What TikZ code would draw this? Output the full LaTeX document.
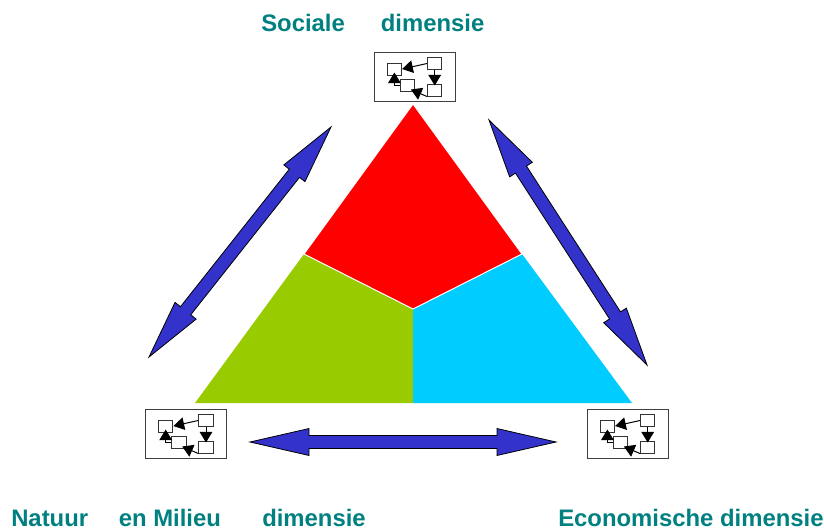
\documentclass[tikz,border=0pt]{standalone}
\usepackage{fontspec}
\setmainfont{Liberation Sans}
\usetikzlibrary{arrows.meta}
\usetikzlibrary{calc}

\definecolor{dimtext}{RGB}{0,128,128}
\definecolor{dimgreen}{RGB}{153,204,0}
\definecolor{dimcyan}{RGB}{0,204,255}
\definecolor{dimblue}{RGB}{51,51,204}

\tikzset{
  dimlabel/.style={font=\fontsize{17.9}{20}\selectfont\bfseries,text=dimtext,anchor=base west,inner sep=0pt},
  sector/.style={draw=white,line width=0.75},
  framebox/.style={draw=black!75,line width=0.75,inner sep=0pt,minimum width=60.8pt,minimum height=36.5pt},
  smallbox/.style={draw=black!80,fill=white,line width=0.75,inner sep=0pt,minimum width=10.9pt,minimum height=9pt},
  smallarrow/.style={draw=black,line width=0.75,-{Triangle[length=8pt,width=9.5pt]}},
  bigarrow/.style={draw=black,fill=dimblue,line width=0.6},
  pics/icon/.style={code={
    \node[framebox] (-frame) at (0,0) {};
    \node[smallbox] (-a) at (-20.3,8) {};
    \node[smallbox] (-b) at (20,13.5) {};
    \node[smallbox] (-c) at (-7,-8) {};
    \node[smallbox] (-d) at (20,-13) {};
    % Connection
    \draw[smallarrow] (-b.west) -- (-a.east);
    \draw[smallarrow,shorten >=-1.5pt] (-b.south) -- (-d.north);
    \draw[smallarrow,shorten >=-3.75pt] (-d.south west) -- (-c.south east);
    \draw[smallarrow,shorten >=-2.25pt] (-c.west) -| (-a.south);
  }}
}

% double block arrow between two named coordinates
\newcommand{\blockarrow}[2]{
  \coordinate (hA) at ($(#1)!44.25pt!(#2)$);
  \coordinate (hB) at ($(#2)!44.25pt!(#1)$);
  \draw[bigarrow] (#1)
    -- ($(hA)!10.1pt!90:(#2)$) -- ($(hA)!4.9pt!90:(#2)$)
    -- ($(hB)!4.9pt!-90:(#1)$) -- ($(hB)!10.1pt!-90:(#1)$)
    -- (#2)
    -- ($(hB)!10.1pt!90:(#1)$) -- ($(hB)!4.9pt!90:(#1)$)
    -- ($(hA)!4.9pt!-90:(#2)$) -- ($(hA)!10.1pt!-90:(#2)$)
    -- cycle;
}

\begin{document}
\begin{tikzpicture}[x=0.75pt,y=0.75pt,yscale=-1,xscale=1]
\useasboundingbox (0,0) rectangle (824,529);

\coordinate (apex) at (413,104);
\coordinate (left) at (195,403);
\coordinate (right) at (632,403);
\coordinate (mid) at (413,309);
\coordinate (midleft) at (304,254);
\coordinate (midright) at (522,254);
\coordinate (bottom) at (413,403);

% Sectors
\fill[dimgreen] (midleft) -- (mid) -- (bottom) -- (left) -- cycle;
\fill[dimcyan] (midright) -- (mid) -- (bottom) -- (right) -- cycle;
\draw[sector,fill=red] (apex) -- (midright) -- (mid) -- (midleft) -- cycle;

% Text Node
\node[dimlabel] (sociale) at (261,31) {Sociale\hspace{27pt}dimensie};
% Text Node
\node[dimlabel] (natuur) at (11,526) {Natuur\hspace{23pt}en Milieu\hspace{31pt}dimensie};
% Text Node
\node[dimlabel] (economische) at (558,526) {Economische dimensie};

% Icons
\pic (soc) at (414.7,77) {icon};
\pic (nat) at (186,434) {icon};
\pic (eco) at (627.7,434) {icon};

% Block arrows
\coordinate (ltop) at (331,127);
\coordinate (lbot) at (149,357);
\coordinate (rtop) at (489,120);
\coordinate (rbot) at (647,365);
\coordinate (bleft) at (250,442);
\coordinate (bright) at (556,442);
\blockarrow{ltop}{lbot}
\blockarrow{rtop}{rbot}
\blockarrow{bleft}{bright}

\end{tikzpicture}
\end{document}
